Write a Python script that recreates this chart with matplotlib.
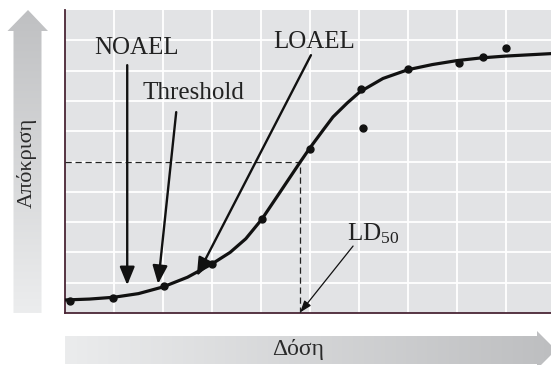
import matplotlib
matplotlib.use('Agg')
import numpy as np
import matplotlib.pyplot as plt
from matplotlib.colors import LinearSegmentedColormap
from matplotlib.patches import Polygon

# measured points (dose, response) on a 0-10 grid
dose_pts = [0.1, 0.98, 2.02, 3.0, 4.02, 5.0, 6.04, 6.08, 7.0, 8.04, 8.53, 9.0]
resp_pts = [0.4, 0.5, 0.89, 1.62, 3.1, 5.4, 7.4, 6.1, 8.05, 8.25, 8.45, 8.75]

# fitted dose-response curve
curve_x = [0, 0.5, 1.0, 1.5, 2.0, 2.5, 3.0, 3.37, 3.69, 4.02, 4.39, 4.8, 5.0,
           5.27, 5.47, 5.76, 6.02, 6.49, 7.0, 7.5, 8.0, 8.5, 9.0, 9.92]
curve_y = [0.43, 0.46, 0.52, 0.64, 0.86, 1.18, 1.62, 2.0, 2.45, 3.1, 3.99,
           4.98, 5.45, 6.04, 6.47, 6.93, 7.3, 7.74, 8.03, 8.2, 8.33, 8.42,
           8.48, 8.56]

ld50_dose, ld50_resp = 4.8, 5.0

# annotation labels: (text, text x, text baseline y, arrow start, arrow end)
labels = [
    ('NOAEL', 1.45, 8.55, (1.27, 8.18), (1.27, 0.92)),
    ('Threshold', 2.63, 7.06, (2.27, 6.63), (1.90, 0.96)),
    ('LOAEL', 5.09, 8.75, (5.02, 8.51), (2.69, 1.22)),
]

serif = 'Liberation Serif'
plt.rcParams['font.family'] = serif
plt.rcParams['mathtext.fontset'] = 'custom'
plt.rcParams['mathtext.rm'] = serif
plt.rcParams['mathtext.it'] = serif

W, H = 551, 365
fig = plt.figure(figsize=(W / 100, H / 100), dpi=100)

# background layer in pixel coordinates for the gradient arrows
bg = fig.add_axes([0, 0, 1, 1])
bg.set_axis_off()


def grad_arrow(poly, extent, c0, c1, vertical):
    cmap = LinearSegmentedColormap.from_list('g', [c0, c1])
    g = np.linspace(0, 1, 256)
    img = g.reshape(-1, 1) if vertical else g.reshape(1, -1)
    im = bg.imshow(img, extent=extent, cmap=cmap, aspect='auto',
                   interpolation='bilinear', origin='upper')
    patch = Polygon(poly, closed=True, facecolor='none', edgecolor='none',
                    transform=bg.transData)
    bg.add_patch(patch)
    im.set_clip_path(patch)


# vertical arrow (Απόκριση)
grad_arrow([(28, 10), (48, 31), (41.5, 31), (41.5, 313), (13.5, 313),
            (13.5, 31), (7.5, 31)],
           (7, 49, 313, 10), '#bfc0c2', '#ecedee', True)
# horizontal arrow (Δόση)
grad_arrow([(65, 336), (537, 336), (537, 331), (556, 350), (537, 369),
            (537, 364), (65, 364)],
           (65, 556, 370, 330), '#ebeced', '#bdbec0', False)
bg.set_xlim(0, W)
bg.set_ylim(H, 0)

bg.text(27, 163, 'Απόκριση', rotation=90, ha='center', va='center',
        fontsize=16, color='#2a2a2a')
bg.text(298, 350, 'Δόση', ha='center', va='center', fontsize=17,
        color='#2a2a2a')

# main plot
ax = fig.add_axes([65 / W, (H - 313) / H, (W - 65) / W, 303 / H])
ax.set_facecolor('#e2e3e5')
ax.set_xlim(0, 9.92)
ax.set_ylim(0, 10)
ax.set_xticks(np.arange(1, 10))
ax.set_yticks(np.arange(1, 10))
ax.grid(True, color='white', lw=1.3)
ax.tick_params(length=0, labelbottom=False, labelleft=False)
for s in ['top', 'right']:
    ax.spines[s].set_visible(False)
for s in ['left', 'bottom']:
    ax.spines[s].set_color('#4a2535')
    ax.spines[s].set_linewidth(1.3)

# LD50 dashed guides
ax.plot([0, ld50_dose, ld50_dose], [ld50_resp, ld50_resp, 0], ls=(0, (5, 3)),
        color='#222222', lw=0.9, zorder=3)

ax.plot(curve_x, curve_y, color='#111111', lw=2.3, solid_capstyle='round',
        solid_joinstyle='round', zorder=4)
ax.plot(dose_pts, resp_pts, 'o', color='#111111', ms=5, zorder=5)

for txt, tx, ty, start, end in labels:
    ax.text(tx, ty, txt, ha='center', va='baseline', fontsize=18,
            color='#222222', zorder=6)
    ax.annotate('', xy=end, xytext=start,
                arrowprops=dict(arrowstyle='-|>,head_length=1.1,head_width=0.45',
                                lw=1.7, color='#111111', shrinkA=0, shrinkB=0),
                zorder=6)

ax.text(5.76, 2.38, r'LD$_{\mathrm{50}}$', ha='left', va='baseline',
        fontsize=18, color='#222222', zorder=6)
ax.annotate('', xy=(ld50_dose, 0.02), xytext=(5.88, 2.21),
            arrowprops=dict(arrowstyle='-|>,head_length=0.7,head_width=0.25',
                            lw=0.9, color='#111111', shrinkA=0, shrinkB=0),
            zorder=6)

fig.savefig('out.png', dpi=100)
